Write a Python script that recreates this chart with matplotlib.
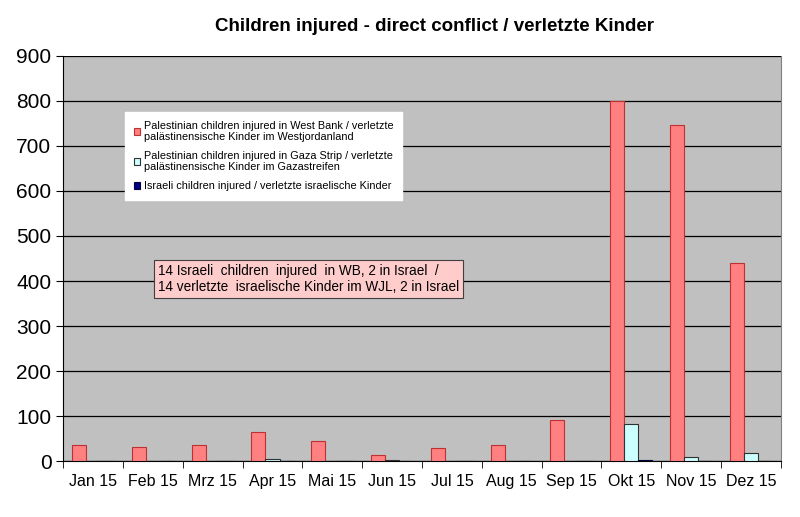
import numpy as np
import matplotlib.pyplot as plt

plt.rcParams['font.family'] = ['Liberation Sans', 'DejaVu Sans']

months = ["Jan 15", "Feb 15", "Mrz 15", "Apr 15", "Mai 15", "Jun 15",
          "Jul 15", "Aug 15", "Sep 15", "Okt 15", "Nov 15", "Dez 15"]
west_bank = [37, 31, 35, 64, 45, 13, 29, 36, 91, 800, 747, 440]
gaza = [0, 0, 0, 4, 1, 2, 1, 0, 1, 82, 10, 19]
israeli = [1, 0, 1, 0, 1, 0, 0, 1, 1, 3, 1, 1]

labels = ["Palestinian children injured in West Bank / verletzte\npalästinensische Kinder im Westjordanland",
          "Palestinian children injured in Gaza Strip / verletzte\npalästinensische Kinder im Gazastreifen",
          "Israeli children injured / verletzte israelische Kinder"]
note = "14 Israeli  children  injured  in WB, 2 in Israel  /\n14 verletzte  israelische Kinder im WJL, 2 in Israel"

fig = plt.figure(figsize=(8, 5.17), dpi=100)
ax = fig.add_axes([0.079, 0.108, 0.897, 0.784])
ax.set_facecolor('#C0C0C0')

x = np.arange(len(months))
w = 0.235
b1 = ax.bar(x - w, west_bank, w, color='#FF8080', edgecolor='#C03030', linewidth=0.8, label=labels[0], zorder=3)
b2 = ax.bar(x, gaza, w, color='#CCFFFF', edgecolor='#303030', linewidth=0.8, label=labels[1], zorder=3)
b3 = ax.bar(x + w, israeli, w, color='#000080', edgecolor='#000040', linewidth=0.8, label=labels[2], zorder=3)

ax.set_xlim(-0.5, len(months) - 0.5)
ax.set_ylim(0, 900)
ax.set_yticks(range(0, 901, 100))
ax.yaxis.grid(True, color='black', linewidth=0.9, zorder=1)
ax.tick_params(axis='y', labelsize=15, length=5, direction='out')
ax.set_xticks(x)
ax.set_xticklabels(months, fontsize=11.5)
ax.set_xticks(np.arange(-0.5, len(months)), minor=True)
ax.tick_params(axis='x', which='major', length=0, pad=9)
ax.tick_params(axis='x', which='minor', length=5)
ax.spines['top'].set_visible(False)
ax.spines['right'].set_color('#808080')

fig.suptitle("Children injured - direct conflict / verletzte Kinder",
             fontsize=13.5, fontweight='bold', x=0.543, y=0.965)

leg = ax.legend(handles=[b1, b2, b3], loc='upper left', bbox_to_anchor=(0.079, 0.875),
                fontsize=7.8, handlelength=0.6, handleheight=0.6, handletextpad=0.3,
                labelspacing=0.8, borderpad=0.8, fancybox=False, framealpha=1,
                edgecolor='white')
leg.set_zorder(5)

ax.text(0.132, 0.45, note, transform=ax.transAxes, fontsize=9.8, va='center', ha='left',
        bbox=dict(boxstyle='square,pad=0.3', facecolor='#FFCCCC', edgecolor='#404040', linewidth=0.8),
        zorder=6)

fig.savefig('out.png', dpi=100)
